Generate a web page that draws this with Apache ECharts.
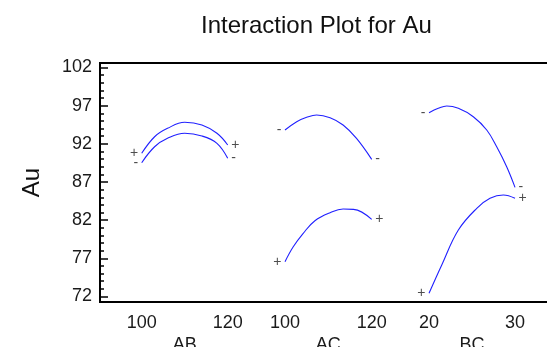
<!DOCTYPE html>
<html><head><meta charset="utf-8">
<script src="https://cdn.jsdelivr.net/npm/echarts@6/dist/echarts.min.js"></script>
<style>html,body{margin:0;padding:0;background:#fff}#c{width:547px;height:347px}</style>
</head><body><div id="c"></div>
<script>
const chartTitle = 'Interaction Plot for Au';
const yName = 'Au';
const groups = ['AB', 'AC', 'BC'];
const groupTicks = [[100, 120], [100, 120], [20, 30]];
const groupMid = [110, 110, 25];
const yMajorTicks = [72, 77, 82, 87, 92, 97, 102];
const yMinorTicks = [73, 74, 75, 76, 78, 79, 80, 81, 83, 84, 85, 86, 88, 89, 90, 91, 93, 94, 95, 96, 98, 99, 100, 101];

// AB interaction
const abX = [100, 103, 106, 110, 114, 117.5, 120];
const abPlus = [90.76, 92.93, 94.03, 94.82, 94.47, 93.38, 91.85];
const abMinus = [89.53, 91.62, 92.72, 93.38, 93.03, 92.07, 90.1];
// AC interaction
const acMinusX = [100, 102.7, 105, 107.3, 110.4, 113.4, 116.5, 120];
const acMinus = [93.81, 94.90, 95.48, 95.78, 95.42, 94.47, 92.72, 89.97];
const acPlusX = [100, 101.9, 104.2, 106.9, 110.4, 113.4, 115.8, 120];
const acPlus = [76.56, 78.52, 80.28, 81.93, 82.98, 83.46, 83.42, 82.11];
// BC interaction
const bcMinusX = [20, 21.08, 22.06, 23.41, 25.15, 26.71, 27.87, 29.03, 30];
const bcMinus = [96.08, 96.65, 96.96, 96.65, 95.55, 93.81, 91.62, 89.0, 86.3];
const bcPlusX = [20, 21.48, 23.41, 25.55, 27.09, 28.64, 30];
const bcPlus = [72.42, 76.13, 80.71, 83.55, 84.86, 85.30, 84.86];

const curves = [
  {axis: 0, xs: abX, ys: abPlus, sign: '+'},
  {axis: 0, xs: abX, ys: abMinus, sign: '-'},
  {axis: 1, xs: acMinusX, ys: acMinus, sign: '-'},
  {axis: 1, xs: acPlusX, ys: acPlus, sign: '+'},
  {axis: 2, xs: bcMinusX, ys: bcMinus, sign: '-'},
  {axis: 2, xs: bcPlusX, ys: bcPlus, sign: '+'}
];

const xRanges = [[90.30, 197.28], [57.32, 163.44], [-18.26, 35.23]];
const font = '"Liberation Sans", Arial, sans-serif';

const series = [];
curves.forEach(c => {
  series.push({
    type: 'line', xAxisIndex: c.axis, yAxisIndex: 0,
    data: c.xs.map((x, j) => [x, c.ys[j]]),
    showSymbol: false, smooth: 0.4, silent: true,
    lineStyle: {color: '#2020ff', width: 1.1}
  });
  const n = c.xs.length - 1;
  series.push({
    type: 'scatter', xAxisIndex: c.axis, yAxisIndex: 0,
    symbolSize: 1, itemStyle: {color: 'rgba(0,0,0,0)'}, silent: true,
    label: {show: true, formatter: p => p.name, fontFamily: font, fontSize: 14, color: '#222'},
    data: [
      {name: c.sign, value: [c.xs[0], c.ys[0]], label: {position: 'left', distance: 3}},
      {name: c.sign, value: [c.xs[n], c.ys[n]], label: {position: 'right', distance: 3}}
    ]
  });
});

const chart = echarts.init(document.getElementById('c'), null, {renderer: 'canvas'});
chart.setOption({
  animation: false,
  title: {text: chartTitle, left: 196, top: 9,
    textStyle: {fontFamily: font, fontSize: 24, fontWeight: 'normal', color: '#111'}},
  grid: {left: 100, width: 460, top: 63, height: 239, show: true, outerBoundsMode: 'none',
    containLabel: false,
    borderColor: '#000', borderWidth: 2, backgroundColor: 'transparent'},
  xAxis: groups.map((g, i) => ({
    type: 'value', gridIndex: 0, position: 'bottom',
    min: xRanges[i][0], max: xRanges[i][1],
    axisLine: {show: false, onZero: false}, axisTick: {show: false}, splitLine: {show: false},
    axisLabel: {
      customValues: [groupTicks[i][0], groupMid[i], groupTicks[i][1]],
      formatter: v => (v === groupMid[i] ? '\n' + g : String(v)),
      fontFamily: font, fontSize: 18, color: '#1a1a1a', lineHeight: 22, margin: 10
    }
  })),
  yAxis: [
    {type: 'value', min: 71.28, max: 102.59, position: 'left',
      name: yName, nameLocation: 'middle', nameGap: 56,
      nameTextStyle: {fontFamily: font, fontSize: 24, color: '#111'},
      axisLine: {show: true, onZero: false, lineStyle: {color: '#000', width: 2}},
      axisTick: {show: true, inside: true, length: 8, customValues: yMajorTicks,
        lineStyle: {color: '#000', width: 1.5}},
      axisLabel: {customValues: yMajorTicks, fontFamily: font, fontSize: 18, color: '#1a1a1a', margin: 8},
      splitLine: {show: false}},
    {type: 'value', min: 71.28, max: 102.59, position: 'left',
      axisLine: {show: false, onZero: false},
      axisTick: {show: true, inside: true, length: 4, customValues: yMinorTicks,
        lineStyle: {color: '#000', width: 1.5}},
      axisLabel: {show: false}, splitLine: {show: false}}
  ],
  series: series
});
</script>
</body></html>
